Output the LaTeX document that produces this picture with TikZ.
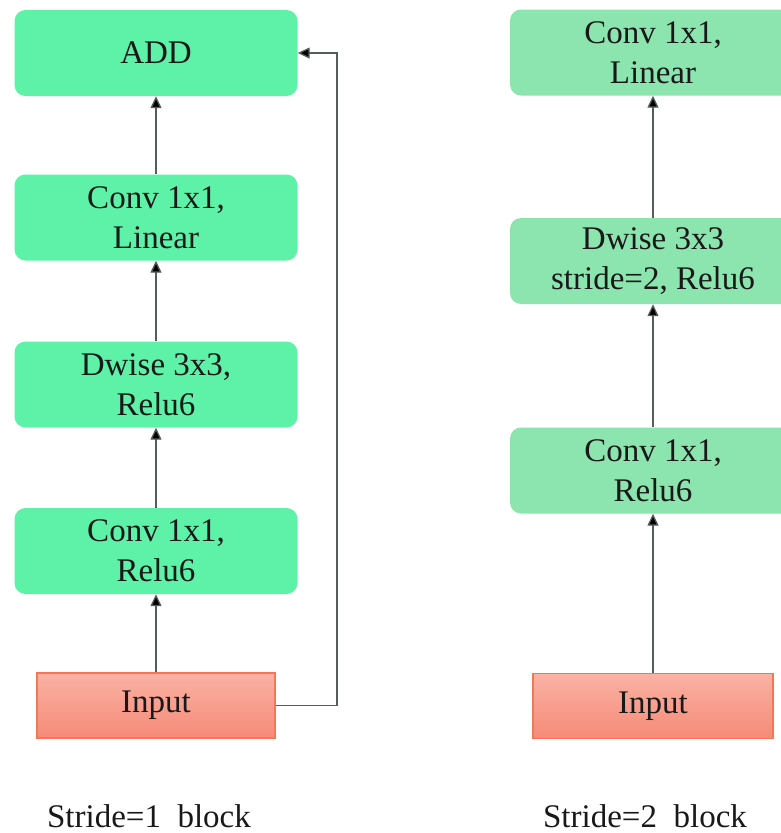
\documentclass[tikz,border=0pt]{standalone}
\usepackage{fontspec}
\setmainfont{Liberation Serif}
\usetikzlibrary{arrows.meta}
\definecolor{mintA}{RGB}{94,242,168}
\definecolor{mintB}{RGB}{140,228,174}
\definecolor{salmonTop}{RGB}{250,178,164}
\definecolor{salmonBot}{RGB}{246,138,120}
\definecolor{salmonEdge}{RGB}{242,118,88}
\definecolor{wire}{RGB}{85,92,92}
\definecolor{ink}{RGB}{25,25,25}
\tikzset{
  lbl/.style={font=\fontsize{33}{40}\selectfont, text=ink, align=center, inner sep=0pt},
  opbox/.style={lbl, rectangle, rounded corners=11pt, minimum height=86pt},
  leftop/.style={opbox, fill=mintA, minimum width=283pt},
  rightop/.style={opbox, fill=mintB, minimum width=286pt},
  inbox/.style={lbl, rectangle, draw=salmonEdge, line width=1.2pt, top color=salmonTop, bottom color=salmonBot, minimum height=65pt},
  flow/.style={draw=wire, line width=1.3pt, -{Triangle[length=12pt,width=11pt,fill=black]}},
}
\begin{document}
\begin{tikzpicture}[x=1pt,y=-1pt]
\useasboundingbox (0,0) rectangle (781,833);
\fill[white] (0,0) rectangle (781,833);

% stride 1 block
\node[leftop] (add) at (156,53) {ADD};
\node[leftop] (linL) at (156,217.5) {Conv 1x1,\\Linear};
\node[leftop] (dwL) at (156,384.5) {Dwise 3x3,\\Relu6};
\node[leftop] (expL) at (156,551) {Conv 1x1,\\Relu6};
\node[inbox, minimum width=238pt] (inL) at (156,705.5) {Input};
\coordinate (skip) at (337,705.5);

\draw[flow] (inL) -- (expL);
\draw[flow] (expL) -- (dwL);
\draw[flow] (dwL) -- (linL);
\draw[flow] (linL) -- (add);
\draw[flow] (inL.east) -- (skip) |- (add.east);

\node[lbl] (capL) at (149,816) {Stride=1\ \ block};

% stride 2 block
\node[rightop] (linR) at (653,52.5) {Conv 1x1,\\Linear};
\node[rightop] (dwR) at (653,261) {Dwise 3x3\\stride=2, Relu6};
\node[rightop] (expR) at (653,470.5) {Conv 1x1,\\Relu6};
\node[inbox, minimum width=240pt] (inR) at (653,706) {Input};

\draw[flow] (inR) -- (expR);
\draw[flow] (expR) -- (dwR);
\draw[flow] (dwR) -- (linR);

\node[lbl] (capR) at (645,816) {Stride=2\ \ block};
\end{tikzpicture}
\end{document}
